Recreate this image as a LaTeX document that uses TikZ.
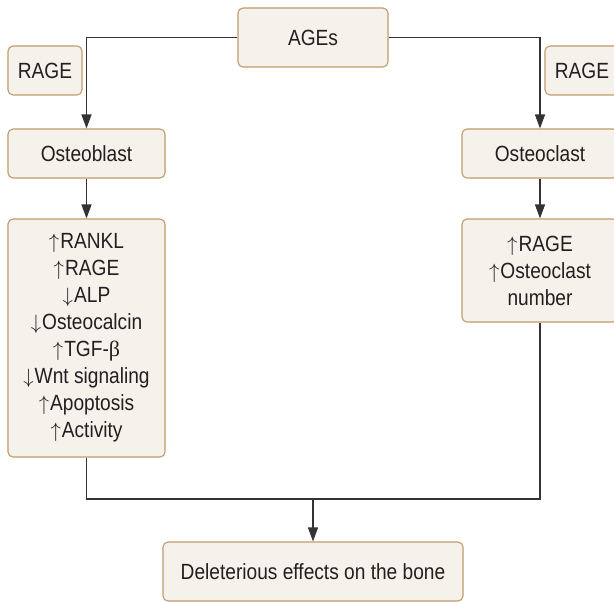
\documentclass[tikz,border=0pt]{standalone}
\usepackage{fontspec}
\setmainfont{Liberation Sans}[FakeStretch=0.87]
\newfontfamily\grk{Liberation Serif}
\usetikzlibrary{arrows.meta}
\definecolor{boxfill}{HTML}{F5F2EC}
\definecolor{boxline}{HTML}{C29A6E}
\definecolor{conn}{HTML}{333333}
\definecolor{txt}{HTML}{231F20}
\newcommand{\up}{$\uparrow$\kern1pt}
\newcommand{\dn}{$\downarrow$\kern1pt}
\begin{document}
\begin{tikzpicture}[x=1pt,y=1pt,
  box/.style={draw=boxline, fill=boxfill, line width=1.1pt, rounded corners=5pt,
    align=center, inner sep=0pt, font=\fontsize{22}{27}\selectfont, text=txt},
  conline/.style={draw=conn, line width=1.2pt},
  arr/.style={conline, -{Triangle[width=10pt,length=14pt]}}]
\clip (0,0) rectangle (614,-602);
\fill[white] (0,0) rectangle (614,-602);
\node[box, minimum width=150pt, minimum height=59pt] (ages) at (313,-37.5) {AGEs};
\node[box, minimum width=74pt, minimum height=49pt] (ragel) at (45,-70.5) {RAGE};
\node[box, minimum width=74pt, minimum height=49pt] (rager) at (582,-70.5) {RAGE};
\node[box, minimum width=157pt, minimum height=49pt] (ob) at (86.5,-153.5) {Osteoblast};
\node[box, minimum width=156pt, minimum height=49pt] (oc) at (540,-153.5) {Osteoclast};
\node[box, minimum width=157pt, minimum height=238pt] (lb) at (86.5,-338) {%
  \up RANKL\\ \up RAGE\\ \dn ALP\\ \dn Osteocalcin\\ \up TGF-{\grk β}\\ \dn Wnt signaling\\ \up Apoptosis\\ \up Activity};
\node[box, minimum width=156pt, minimum height=103pt] (rb) at (540,-270.5) {%
  \up RAGE\\ \up Osteoclast\\ number};
\node[box, minimum width=300pt, minimum height=59pt] (del) at (313,-571.5) {Deleterious effects on the bone};
\coordinate (jn) at (313,-499);
\draw[arr] (ages.west) -| (ob.north);
\draw[arr] (ages.east) -| (oc.north);
\draw[arr] (ob.south) -- (lb.north);
\draw[arr] (oc.south) -- (rb.north);
\draw[conline] (lb.south) |- (jn) -| (rb.south);
\draw[arr] (jn) -- (del.north);
\end{tikzpicture}
\end{document}
